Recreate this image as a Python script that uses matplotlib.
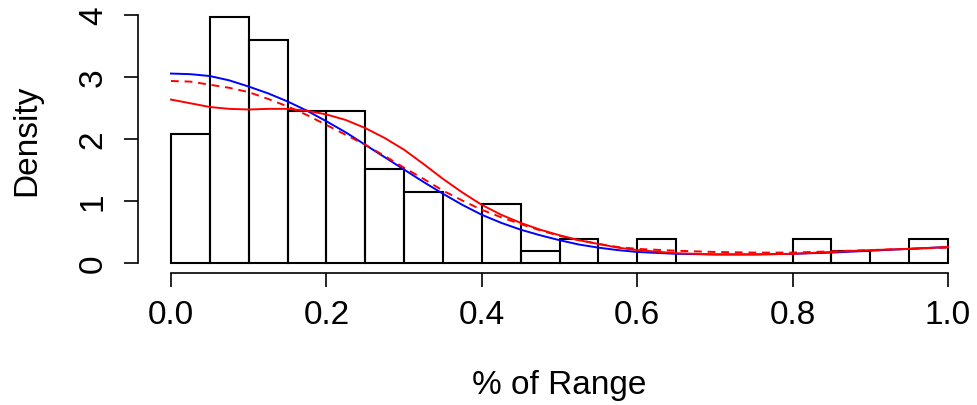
import numpy as np
import matplotlib
matplotlib.use("Agg")
import matplotlib.pyplot as plt

plt.rcParams["font.family"] = ["Liberation Sans", "DejaVu Sans"]

# histogram: 0.05-wide bins on [0, 1], counts per bin
bin_edges = np.round(np.arange(0, 1.0001, 0.05), 2)
counts = [11, 21, 19, 13, 13, 8, 6, 0, 5, 1, 2, 0, 2, 0, 0, 0, 2, 1, 0, 2]

# density curves
x_curve = [0.0, 0.025, 0.05, 0.075, 0.1, 0.125, 0.15, 0.175, 0.2, 0.225,
           0.25, 0.275, 0.3, 0.325, 0.35, 0.375, 0.4, 0.425, 0.45, 0.475,
           0.5, 0.525, 0.55, 0.575, 0.6, 0.65, 0.7, 0.75, 0.8, 0.85,
           0.9, 0.95, 1.0]
blue_curve = [3.05, 3.04, 3.01, 2.94, 2.84, 2.73, 2.60, 2.45, 2.28, 2.10,
              1.90, 1.70, 1.50, 1.30, 1.11, 0.93, 0.77, 0.64, 0.53, 0.44,
              0.36, 0.29, 0.24, 0.20, 0.17, 0.14, 0.13, 0.13, 0.14, 0.16,
              0.19, 0.22, 0.25]
red_dashed = [2.93, 2.92, 2.87, 2.82, 2.75, 2.64, 2.52, 2.38, 2.22, 2.06,
              1.90, 1.72, 1.53, 1.35, 1.16, 1.00, 0.85, 0.73, 0.62, 0.52,
              0.43, 0.36, 0.30, 0.25, 0.22, 0.19, 0.17, 0.16, 0.16, 0.18,
              0.20, 0.22, 0.24]
red_solid = [2.63, 2.57, 2.51, 2.48, 2.47, 2.48, 2.48, 2.45, 2.39, 2.30,
             2.17, 2.01, 1.82, 1.59, 1.35, 1.13, 0.93, 0.77, 0.64, 0.53,
             0.44, 0.36, 0.30, 0.24, 0.20, 0.15, 0.13, 0.13, 0.14, 0.17,
             0.20, 0.22, 0.25]

x_ticks = [0.0, 0.2, 0.4, 0.6, 0.8, 1.0]
x_ticklabels = ["0.0", "0.2", "0.4", "0.6", "0.8", "1.0"]
y_ticks = [0, 1, 2, 3, 4]


#####################
### Plot
#####################
W, H = 977, 406
fig = plt.figure(figsize=(W / 100, H / 100), dpi=100)

# pixel layout (R-like detached axes)
px_left, px_right = 138, 960
px_top, px_bottom = 5, 274
x0_px, x1_px = 171, 948        # data 0 and 1
y0_px, y4_px = 263.5, 15.7     # data 0 and 4
xs = (x1_px - x0_px)
ys = (y0_px - y4_px) / 4

ax = fig.add_axes([px_left / W, (H - px_bottom) / H,
                   (px_right - px_left) / W, (px_bottom - px_top) / H])
ax.set_xlim((px_left - x0_px) / xs, (px_right - x0_px) / xs)
ax.set_ylim(-(px_bottom - y0_px) / ys, (y0_px - px_top) / ys)

width = 0.05
density = np.array(counts) / (sum(counts) * width)
ax.bar(bin_edges[:-1], density, width=width, align="edge",
       fill=False, edgecolor="black", linewidth=1.5)

ax.plot(x_curve, blue_curve, color="blue", lw=1.4)
ax.plot(x_curve, red_dashed, color="red", lw=1.4, dashes=(4, 3))
ax.plot(x_curve, red_solid, color="red", lw=1.4)

for s in ["top", "right"]:
    ax.spines[s].set_visible(False)
ax.spines["left"].set_bounds(0, 4)
ax.spines["bottom"].set_bounds(0, 1)
ax.spines["left"].set_linewidth(1.2)
ax.spines["bottom"].set_linewidth(1.2)

ax.set_xticks(x_ticks)
ax.set_xticklabels(x_ticklabels)
ax.set_yticks(y_ticks)
ax.tick_params(axis="both", length=10, width=1.2, labelsize=24)
ax.tick_params(axis="x", pad=9)
ax.tick_params(axis="y", pad=11, labelrotation=90)
for lab in ax.get_yticklabels():
    lab.set_va("center")

fig.text((x0_px + x1_px) / 2 / W, (H - 394) / H, "% of Range",
         ha="center", va="baseline", fontsize=24)
fig.text(27 / W, (H - 140) / H, "Density", rotation=90,
         ha="center", va="center", fontsize=24)

plt.savefig("out.png", dpi=100)
